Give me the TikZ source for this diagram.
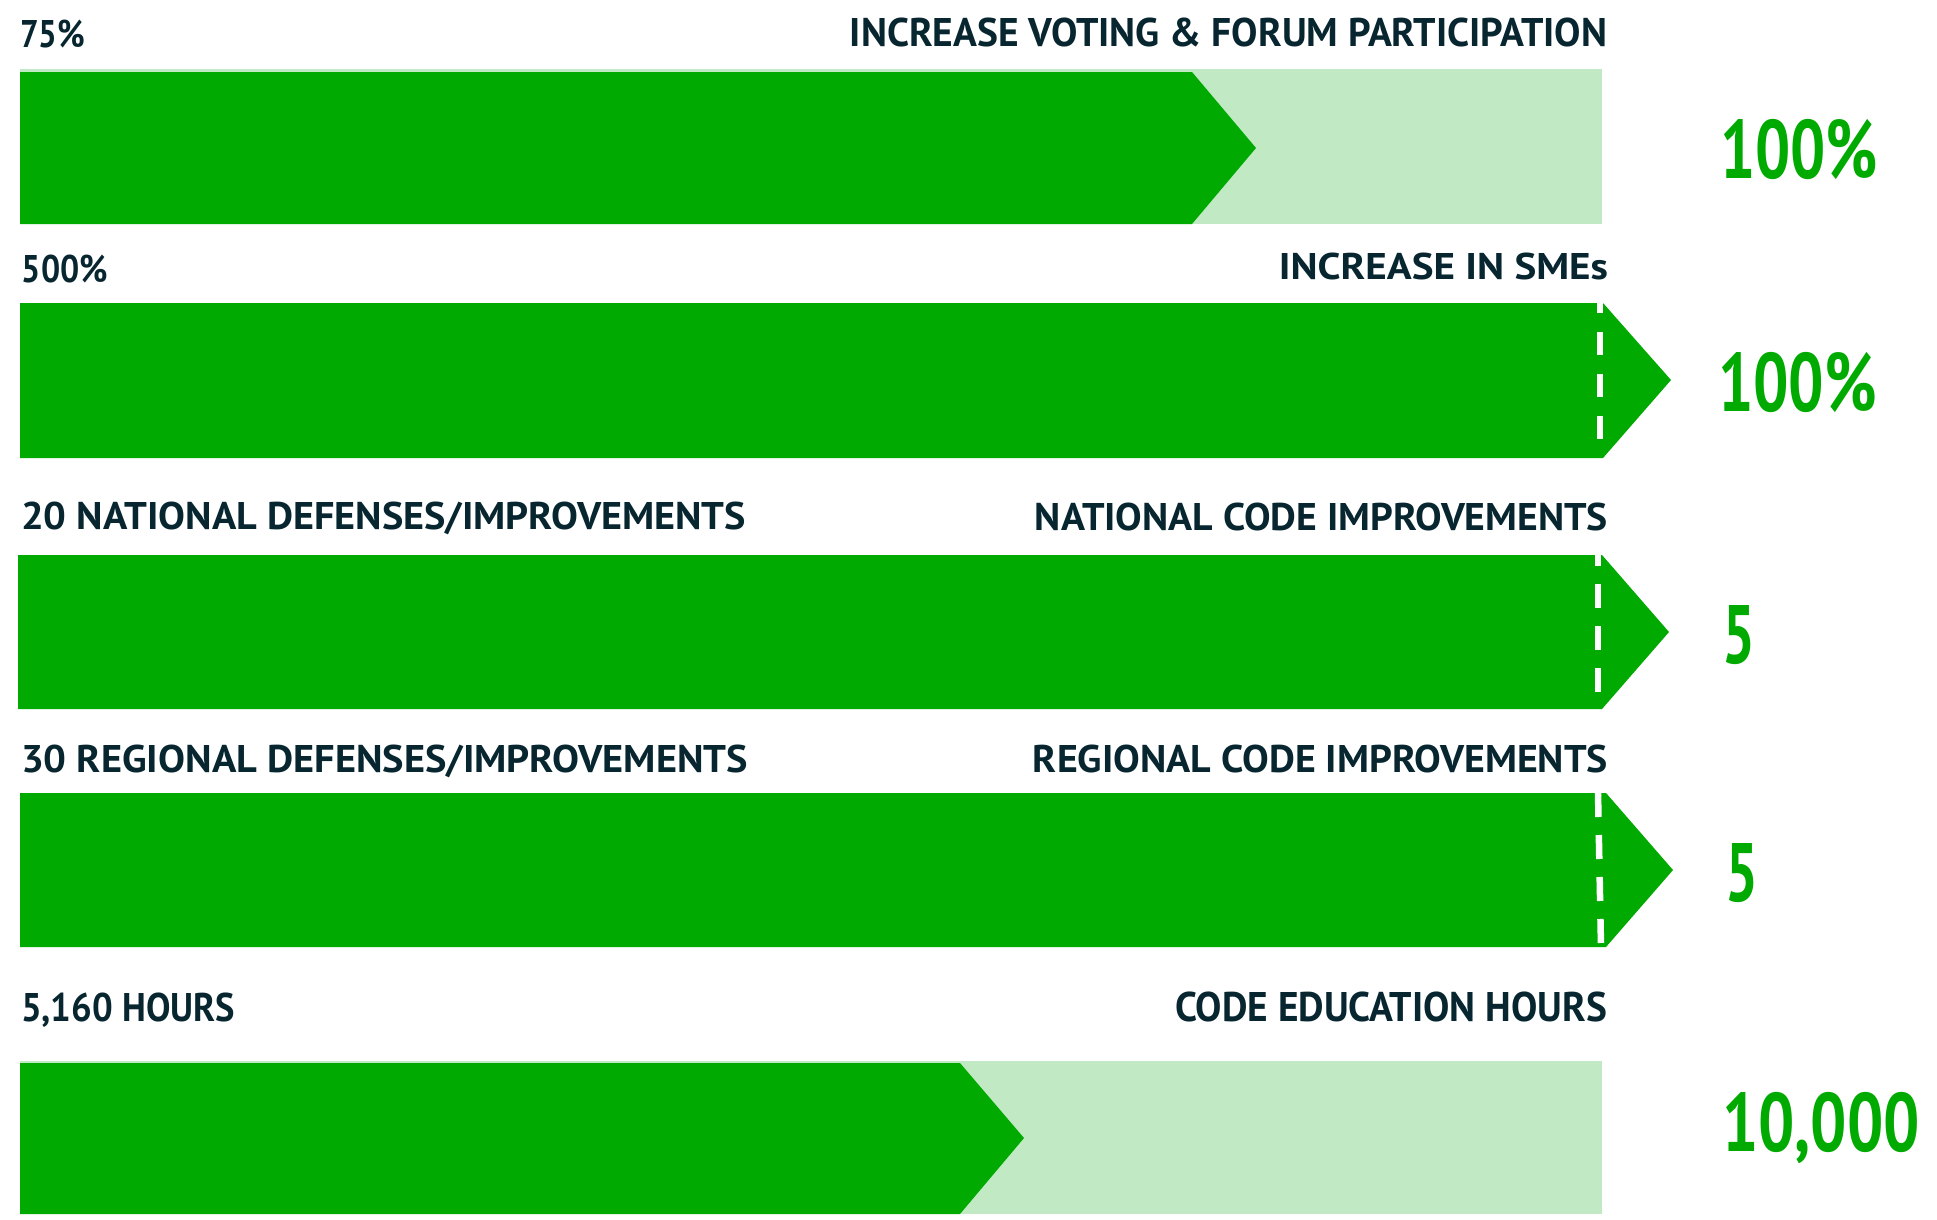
\documentclass[tikz,border=0pt]{standalone}
\usepackage{fontspec}
\setmainfont{PT Sans}
\usepackage{graphicx}
\definecolor{bargreen}{RGB}{0,170,0}
\definecolor{tracklight}{RGB}{193,234,196}
\definecolor{darktext}{RGB}{8,38,48}
\newcommand{\fitt}[3]{\resizebox{#1pt}{#2pt}{\smash{#3}\vphantom{H}}}
\tikzset{
  lbl/.style={inner sep=0pt, outer sep=0pt, text=darktext, font=\bfseries\fontsize{30}{36}\selectfont},
  bignum/.style={inner sep=0pt, outer sep=0pt, text=bargreen, font=\bfseries\fontsize{60}{70}\selectfont},
  barfill/.style={fill=bargreen, draw=none},
  trackfill/.style={fill=tracklight, draw=none},
  dashline/.style={draw=white, line width=6.5pt}
}
\begin{document}
\begin{tikzpicture}[x=1pt, y=-1pt]
\useasboundingbox[fill=white] (0,0) rectangle (1937,1219);

% Bar 1
\fill[trackfill] (20,69) rectangle (1602,224);
\fill[barfill] (20,72) -- (1192,72) -- (1256,148) -- (1192,224) -- (20,224) -- cycle;
\node[lbl, anchor=base west] (t1) at (20,47) {\fitt{65}{27}{75\%}};
\node[lbl, anchor=base east] (r1) at (1607,46) {\fitt{757}{28}{INCREASE VOTING \& FORUM PARTICIPATION}};
\node[bignum, anchor=base west] (n1) at (1720,178) {\fitt{158}{58}{100\%}};

% Bar 2
\fill[barfill] (20,303) -- (1603,303) -- (1671,380) -- (1603,458) -- (20,458) -- cycle;
\draw[dashline, dash pattern=on 23pt off 19pt, dash phase=13pt] (1600,303) -- (1600,458);
\node[lbl, anchor=base west] (t2) at (22,282) {\fitt{86}{27}{500\%}};
\node[lbl, anchor=base east] (r2) at (1608,279) {\fitt{329}{26}{INCREASE IN SMEs}};
\node[bignum, anchor=base west] (n2) at (1718,411) {\fitt{159}{58}{100\%}};

% Bar 3
\fill[barfill] (18,555) -- (1602,555) -- (1669,632) -- (1602,709) -- (18,709) -- cycle;
\draw[dashline, dash pattern=on 24pt off 18pt, dash phase=13pt] (1598,555) -- (1598,709);
\node[lbl, anchor=base west] (t3) at (21,529) {\fitt{725}{27}{20 NATIONAL DEFENSES/IMPROVEMENTS}};
\node[lbl, anchor=base east] (r3) at (1608,530) {\fitt{573}{27}{NATIONAL CODE IMPROVEMENTS}};
\node[bignum, anchor=base west] (n3) at (1722,663) {\fitt{33}{58}{5}};

% Bar 4
\fill[barfill] (20,793) -- (1606,793) -- (1673,870) -- (1606,947) -- (20,947) -- cycle;
\draw[dashline, dash pattern=on 24pt off 18pt] (1598,793) -- (1601,947);
\node[lbl, anchor=base west] (t4) at (21,772) {\fitt{727}{27}{30 REGIONAL DEFENSES/IMPROVEMENTS}};
\node[lbl, anchor=base east] (r4) at (1608,772) {\fitt{575}{27}{REGIONAL CODE IMPROVEMENTS}};
\node[bignum, anchor=base west] (n4) at (1725,901) {\fitt{33}{58}{5}};

% Bar 5
\fill[trackfill] (20,1061) rectangle (1602,1214);
\fill[barfill] (20,1063) -- (960,1063) -- (1024,1138) -- (960,1214) -- (20,1214) -- cycle;
\node[lbl, anchor=base west] (t5) at (21,1021) {\fitt{214}{28}{5,160 HOURS}};
\node[lbl, anchor=base east] (r5) at (1607,1021) {\fitt{432}{29}{CODE EDUCATION HOURS}};
\node[bignum, anchor=base west] (n5) at (1722,1151) {\fitt{198}{58}{10,000}};
\end{tikzpicture}
\end{document}
